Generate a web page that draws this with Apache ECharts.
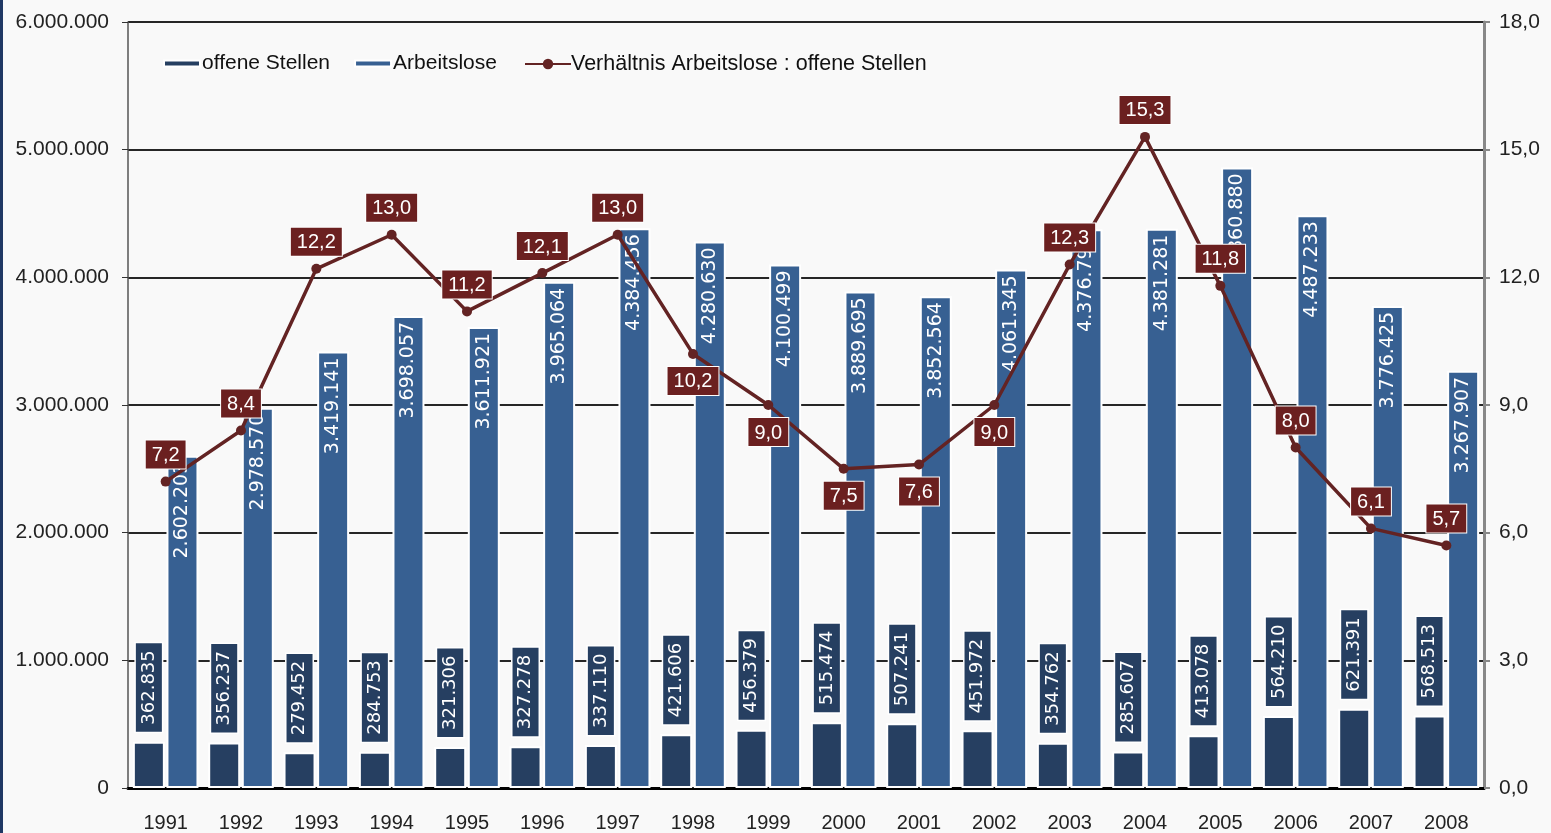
<!DOCTYPE html>
<html>
<head>
<meta charset="utf-8">
<script src="https://cdn.jsdelivr.net/npm/echarts@6/dist/echarts.min.js"></script>
<style>
    html, body { margin: 0; padding: 0; background: #f9f9f9; }
    #chart { width: 1548px; height: 833px; border-left: 3px solid #1f3864; }
</style>
</head>
<body>
<div id="chart"></div>
<script>
// Jahre
var years = ['1991', '1992', '1993', '1994', '1995', '1996', '1997', '1998', '1999',
    '2000', '2001', '2002', '2003', '2004', '2005', '2006', '2007', '2008'];
// offene Stellen
var offeneStellen = [362835, 356237, 279452, 284753, 321306, 327278, 337110, 421606, 456379,
    515474, 507241, 451972, 354762, 285607, 413078, 564210, 621391, 568513];
// Arbeitslose
var arbeitslose = [2602203, 2978570, 3419141, 3698057, 3611921, 3965064, 4384456, 4280630, 4100499,
    3889695, 3852564, 4061345, 4376795, 4381281, 4860880, 4487233, 3776425, 3267907];
// Verhältnis Arbeitslose : offene Stellen
var verhaeltnis = [7.2, 8.4, 12.2, 13.0, 11.2, 12.1, 13.0, 10.2, 9.0,
    7.5, 7.6, 9.0, 12.3, 15.3, 11.8, 8.0, 6.1, 5.7];

// Punkte, deren Beschriftung unterhalb liegt
var labelBelow = {'1998': true, '1999': true, '2000': true, '2001': true, '2002': true};

function fmtDots(v) {
    return String(Math.round(v)).replace(/\B(?=(\d{3})+(?!\d))/g, '.');
}
function fmtComma(v) {
    return v.toFixed(1).replace('.', ',');
}

var ratioData = verhaeltnis.map(function (v, i) {
    var below = labelBelow[years[i]];
    return {
        value: v,
        label: {position: below ? 'bottom' : 'top', distance: 8}
    };
});

var axisFont = 'Liberation Sans, Arial, sans-serif';
var barFont = 'DejaVu Sans, Verdana, sans-serif';

var myChart = echarts.init(document.getElementById('chart'));
myChart.setOption({
    backgroundColor: '#f9f9f9',
    animation: false,
    textStyle: {fontFamily: axisFont},
    grid: {left: 125, right: 67, top: 22, bottom: 44},
    legend: [
        {
            left: 155,
            top: 48,
            itemGap: 24,
            itemWidth: 36,
            itemHeight: 6,
            textStyle: {fontSize: 21, color: '#111', padding: [0, 0, 0, -3]},
            data: [
                {name: 'offene Stellen', icon: 'rect'},
                {name: 'Arbeitslose', icon: 'rect'}
            ]
        },
        {
            left: 516,
            top: 48,
            itemWidth: 46,
            itemHeight: 13,
            textStyle: {fontSize: 21.5, color: '#111', padding: [0, 0, 0, -5]},
            data: ['Verhältnis Arbeitslose : offene Stellen']
        }
    ],
    xAxis: {
        type: 'category',
        data: years,
        axisLine: {lineStyle: {color: '#000', width: 3}},
        axisTick: {length: 6, lineStyle: {color: '#000', width: 2}},
        axisLabel: {fontSize: 20, color: '#222', margin: 25}
    },
    yAxis: [
        {
            type: 'value',
            min: 0,
            max: 6000000,
            interval: 1000000,
            axisLine: {show: true, lineStyle: {color: '#555', width: 1.5}},
            axisTick: {show: true, length: 6, lineStyle: {color: '#333'}},
            axisLabel: {fontSize: 21, color: '#222', margin: 19, formatter: fmtDots},
            splitLine: {lineStyle: {color: '#262626', width: 2}}
        },
        {
            type: 'value',
            min: 0,
            max: 18,
            interval: 3,
            axisLine: {show: true, lineStyle: {color: '#888', width: 3}},
            axisTick: {show: true, length: 6, lineStyle: {color: '#888', width: 2}},
            axisLabel: {fontSize: 21, color: '#222', margin: 15, formatter: fmtComma},
            splitLine: {show: false}
        }
    ],
    series: [
        {
            name: 'offene Stellen',
            type: 'bar',
            data: offeneStellen,
            barWidth: 32,
            barGap: '5%',
            itemStyle: {color: '#263f61', borderColor: '#ffffff', borderWidth: 2},
            label: {
                show: true,
                position: 'top',
                rotate: 90,
                align: 'left',
                verticalAlign: 'middle',
                distance: 10,
                fontFamily: barFont,
                fontSize: 18,
                color: '#fff',
                backgroundColor: '#263f61',
                borderColor: '#ffffff',
                borderWidth: 1.5,
                padding: [5, 7, 3, 7],
                formatter: function (p) { return fmtDots(p.value); }
            },
            z: 3
        },
        {
            name: 'Arbeitslose',
            type: 'bar',
            data: arbeitslose,
            barWidth: 32,
            itemStyle: {color: '#376092', borderColor: '#ffffff', borderWidth: 2},
            label: {
                show: true,
                position: 'insideTop',
                rotate: 90,
                align: 'right',
                verticalAlign: 'middle',
                distance: 6,
                fontFamily: barFont,
                fontSize: 19,
                color: '#fff',
                formatter: function (p) { return fmtDots(p.value); }
            },
            z: 3
        },
        {
            name: 'Verhältnis Arbeitslose : offene Stellen',
            type: 'line',
            yAxisIndex: 1,
            data: ratioData,
            symbol: 'circle',
            symbolSize: 10,
            lineStyle: {color: '#632323', width: 3.5},
            itemStyle: {color: '#632323'},
            label: {
                show: true,
                fontSize: 20,
                color: '#fff',
                backgroundColor: '#6b2020',
                borderColor: '#ffffff',
                borderWidth: 1,
                padding: [5, 6, 3, 6],
                formatter: function (p) { return fmtComma(p.value); }
            },
            z: 5
        }
    ]
});
</script>
</body>
</html>
